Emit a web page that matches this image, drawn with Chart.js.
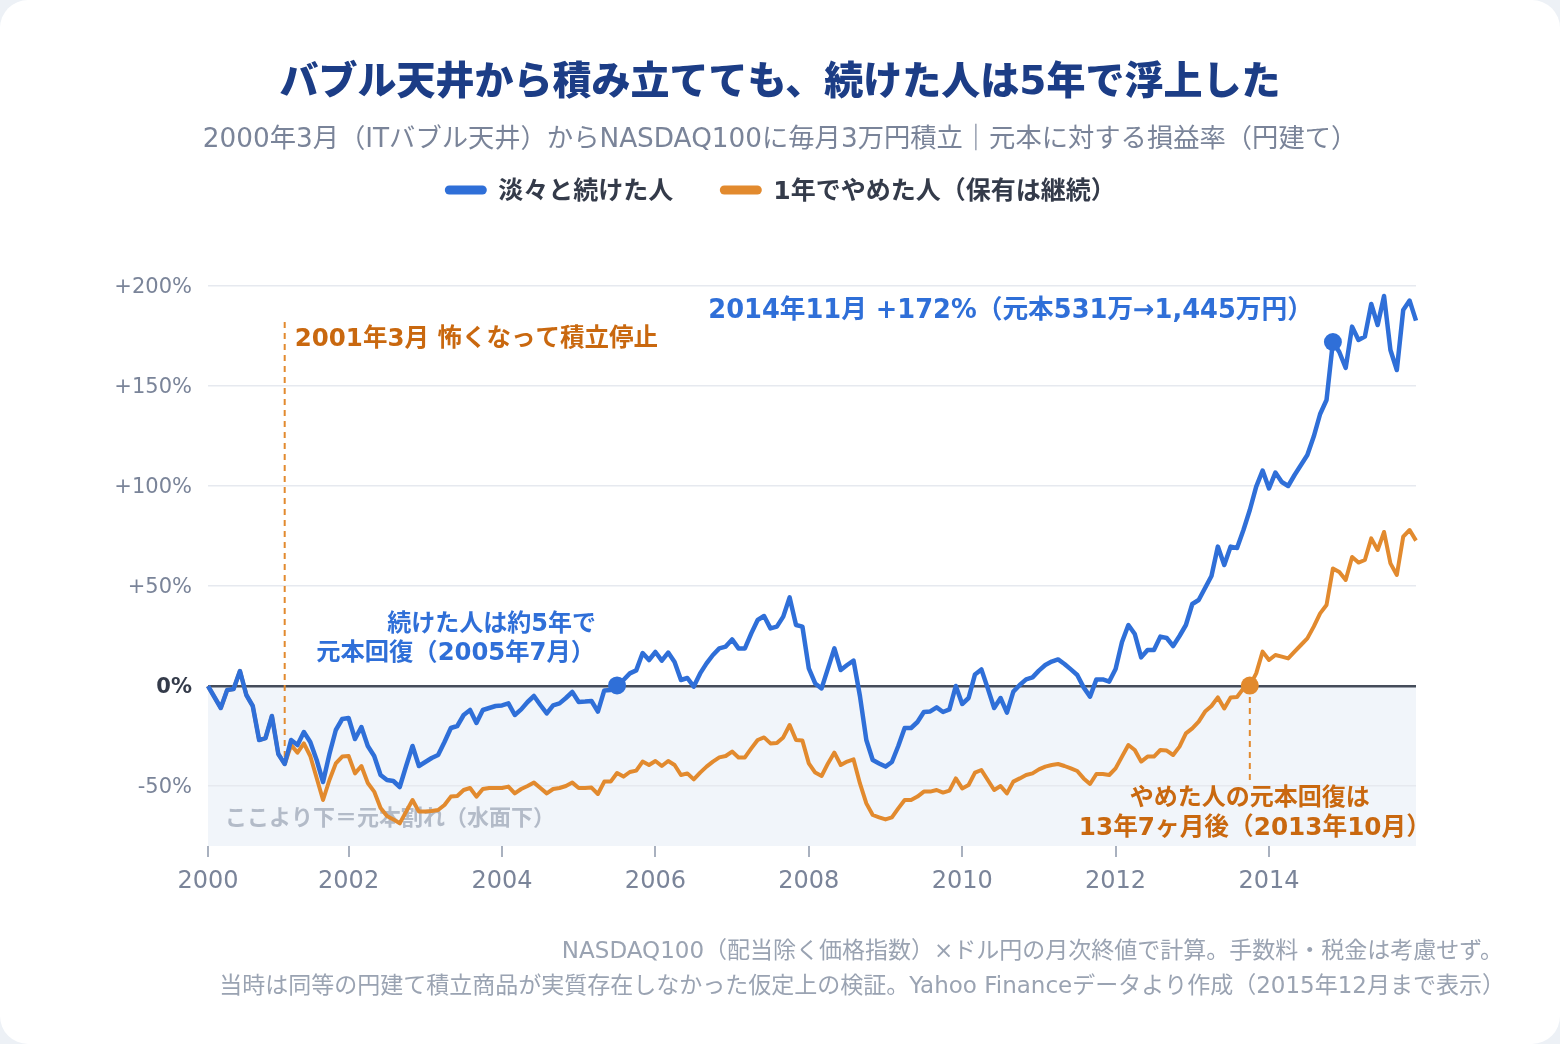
<!DOCTYPE html>
<html lang="ja">
<head>
<meta charset="utf-8">
<title>バブル天井から積み立てても、続けた人は5年で浮上した</title>
<script src="https://cdn.jsdelivr.net/npm/chart.js@4.4.1/dist/chart.umd.min.js"></script>
<style>
  html, body { margin: 0; padding: 0; background: #edf1f6; }
  .card { position: absolute; left: 0; top: 0; width: 1560px; height: 1044px; background: #fff; border-radius: 28px; overflow: hidden; }
  canvas { display: block; }
</style>
</head>
<body>
<div class="card"><canvas id="chart" width="1560" height="1044"></canvas></div>
<script>
(function() {

  // ***************************************************
  // Data: profit/loss vs. principal in %, month-end, Mar 2000 - Dec 2015
  // ***************************************************

  // 淡々と続けた人 (kept buying 30,000 yen every month)
  var kept = [
    0, -5.5, -11, -2, -1.5, 7.5, -4.5, -10, -27, -26, -15, -34,            // 2000
    -39, -27, -29.5, -23, -28, -37, -48, -34, -22, -16.5,                  // 2001
    -16, -26.5, -20.5, -30, -35, -44.5, -47, -47.5, -50.5, -40, -30, -40,  // 2002
    -38, -36, -34.5, -28, -21, -20, -14.5, -12, -18.5, -12, -11, -10,      // 2003
    -9.7, -8.7, -14.5, -11.7, -8, -5, -9.5, -13.7, -9.7, -8.7, -6, -3,     // 2004
    -8, -7.8, -7.5, -12.8, -2.2, -2, 0.3, 3, 6.3, 7.8, 16.5, 13,           // 2005
    17, 12.7, 16.7, 12, 3, 4, -0.3, 6.3, 11.3, 15.5, 18.8, 19.7,           // 2006
    23.3, 18.8, 18.8, 26.3, 33, 35, 28.8, 29.7, 34.7, 44.3, 30.5, 29.7,    // 2007
    8.8, 1.3, -1.2, 8.8, 18.8, 8, 10.5, 12.7, -5, -27, -37, -38.7,         // 2008
    -40.3, -38, -30, -21, -21, -18, -13, -12.7, -10.7, -13, -11.7, 0,      // 2009
    -9, -6, 5.8, 8.3, -1.2, -11, -6, -13.3, -2.8, 0.5, 3.3, 4.3,           // 2010
    7.7, 10.5, 12.2, 13.3, 11, 8.3, 5.5, -0.7, -5.3, 3.3, 3.3, 2.2,        // 2011
    8.5, 22, 30.5, 26, 14.3, 18, 18, 24.7, 24, 20, 25, 30.5,               // 2012
    41, 43, 49, 55, 69.7, 60.5, 69.7, 69, 78, 88, 99.7, 107.7,             // 2013
    98.8, 106.7, 102, 100, 105.5, 110.5, 115.5, 124.7, 136, 143, 172, 167, // 2014
    159, 179.7, 173, 174.7, 191, 180.5, 195, 168, 158, 188, 192.7, 182.7   // 2015
  ];

  // 1年でやめた人 (stopped after Mar 2001, kept holding)
  var stopped = [
    0, -5.5, -11, -2, -1.5, 7.5, -4.5, -10, -27, -26, -15, -34,
    -39, -29.5, -33.3, -28.7, -35, -46, -57, -47, -38.7, -35.3,
    -35, -43.7, -40, -48.5, -52.8, -61, -65, -66.7, -68.7, -62.8, -57, -62.8,
    -62.8, -62.5, -62, -59.5, -55.3, -55, -52, -51, -55.3, -51.5, -51, -51,
    -51, -50.3, -53.7, -51.5, -50, -48.3, -51, -53.7, -51.5, -51, -50, -48.3,
    -51, -51, -50.8, -54, -47.8, -47.8, -43.5, -45.3, -43, -42.3, -37.8, -39.5,
    -37.5, -40, -37.5, -39.5, -44.5, -43.7, -46.7, -43.3, -40.3, -37.8, -35.7, -35,
    -32.8, -35.7, -35.7, -31.2, -27, -25.7, -28.7, -28.5, -25.7, -19.5, -27, -27.3,
    -38.7, -43.3, -45, -38.7, -33.3, -39.5, -37.8, -36.7, -48.7, -58.7, -64.5, -65.7,
    -66.7, -65.7, -61.2, -57, -57, -55.3, -52.8, -52.8, -52, -53.3, -52.3, -46.2,
    -51.2, -49.5, -43.3, -42, -47, -52, -50, -53.7, -47.8, -46.2, -44.5, -43.7,
    -41.7, -40.3, -39.5, -39, -40, -41.2, -42.5, -46.2, -49, -44, -44, -44.5,
    -41.2, -35.3, -29.5, -32, -37.8, -35.3, -35.3, -32, -32.3, -34.5, -30.3, -23.7,
    -21.2, -17.8, -12.8, -10, -5.7, -11.2, -5.7, -5.5, -1.2, 0.2, 6.3, 17.2,
    13, 15.5, 14.7, 13.8, 17.2, 20.5, 23.8, 29.7, 36.3, 40.5, 58.8, 57,
    53, 64.5, 61.7, 63, 73.8, 68, 77, 61.3, 55.5, 74.7, 78, 72.7
  ];

  // month labels, Mar 2000 onwards (one per data point)
  var months = [];
  for (var i = 0; i < kept.length; i++) {
    var m = 2 + i;
    months.push((2000 + Math.floor(m / 12)) + '-' + ('0' + (m % 12 + 1)).slice(-2));
  }

  var xTickYears = ['2000', '2002', '2004', '2006', '2008', '2010', '2012', '2014'];
  var yTickValues = [-50, 0, 50, 100, 150, 200];

  var STOP_MONTH = '2001-03';
  var KEPT_RECOVER = '2005-07';
  var STOPPED_RECOVER = '2013-10';
  var PEAK_MONTH = '2014-11';

  // ***************************************************
  // Styles
  // ***************************************************
  var FONT = "'DejaVu Sans', 'Noto Sans CJK JP', sans-serif";
  var BLUE = '#2f6fd8';
  var ORANGE = '#e28a2e';
  var ORANGE_TEXT = '#c9680f';
  var GREY_TEXT = '#7a8499';

  var idx = function(label) { return months.indexOf(label); };
  var xTickIdx = xTickYears.map(function(y, k) {
    return k === 0 ? 0 : idx(y + '-01');
  });

  function dotRadius(list) {
    return function(c) { return list.indexOf(c.dataIndex) >= 0 ? 9 : 0; };
  }

  // middle-baseline text; +2 compensates DejaVu's high middle line
  function text(ctx, str, x, y, size, color, align, weight) {
    ctx.font = (weight || 'bold') + ' ' + size + 'px ' + FONT;
    ctx.fillStyle = color;
    ctx.textAlign = align || 'left';
    ctx.textBaseline = 'middle';
    ctx.fillText(str, x, y + 2);
  }

  function dashed(ctx, x, y0, y1) {
    ctx.save();
    ctx.strokeStyle = ORANGE;
    ctx.lineWidth = 2;
    ctx.setLineDash([6, 5]);
    ctx.beginPath();
    ctx.moveTo(x, y0);
    ctx.lineTo(x, y1);
    ctx.stroke();
    ctx.restore();
  }

  /**
   * Header, legend, shading, annotations and footer
   */
  var decor = {
    id: 'decor',
    beforeDraw: function(chart) {
      var ctx = chart.ctx, a = chart.chartArea, ys = chart.scales.y;
      var y0 = ys.getPixelForValue(0);
      ctx.save();
      ctx.fillStyle = '#f1f5fa';
      ctx.fillRect(a.left, y0, a.right - a.left, a.bottom - y0);
      ctx.restore();
    },
    beforeDatasetsDraw: function(chart) {
      var ctx = chart.ctx, a = chart.chartArea;
      var xs = chart.scales.x, ys = chart.scales.y;
      ctx.save();
      text(ctx, 'ここより下＝元本割れ（水面下）', a.left + 17, ys.getPixelForValue(-65.5), 22, '#b3bbc8');

      var s = idx(STOP_MONTH);
      dashed(ctx, xs.getPixelForValue(s), ys.getPixelForValue(182), ys.getPixelForValue(kept[s]));

      var r = idx(STOPPED_RECOVER);
      dashed(ctx, xs.getPixelForValue(r), ys.getPixelForValue(0), ys.getPixelForValue(-47));
      ctx.restore();
    },
    afterDraw: function(chart) {
      var ctx = chart.ctx;
      var xs = chart.scales.x, ys = chart.scales.y;
      ctx.save();

      // title + subtitle
      text(ctx, 'バブル天井から積み立てても、続けた人は5年で浮上した', 780, 82, 39, '#1c3d86', 'center', '900');
      text(ctx, '2000年3月（ITバブル天井）からNASDAQ100に毎月3万円積立｜元本に対する損益率（円建て）', 780, 138, 26.3, GREY_TEXT, 'center', 'normal');

      // legend
      var items = [
        { label: chart.data.datasets[0].label, color: BLUE },
        { label: chart.data.datasets[1].label, color: ORANGE }
      ];
      ctx.font = 'bold 25px ' + FONT;
      var sw = 43, gap = 11, spacing = 46;
      var total = 0;
      items.forEach(function(it, k) {
        it.w = ctx.measureText(it.label).width;
        total += sw + gap + it.w + (k ? 0 : spacing);
      });
      var lx = 780 - total / 2;
      items.forEach(function(it) {
        ctx.strokeStyle = it.color;
        ctx.lineWidth = 9;
        ctx.lineCap = 'round';
        ctx.beginPath();
        ctx.moveTo(lx + 5, 190);
        ctx.lineTo(lx + sw - 5, 190);
        ctx.stroke();
        text(ctx, it.label, lx + sw + gap, 190, 25, '#343b4a');
        lx += sw + gap + it.w + spacing;
      });

      // annotations
      var s = idx(STOP_MONTH);
      text(ctx, '2001年3月 怖くなって積立停止', xs.getPixelForValue(s) + 10, ys.getPixelForValue(174), 24.5, ORANGE_TEXT);

      var p = idx(PEAK_MONTH);
      text(ctx, '2014年11月 +172%（元本531万→1,445万円）', xs.getPixelForValue(p) - 20, ys.getPixelForValue(188.5), 25.7, BLUE, 'right');

      var k5 = xs.getPixelForValue(idx(KEPT_RECOVER)) - 21;
      text(ctx, '続けた人は約5年で', k5, ys.getPixelForValue(31.5), 24, BLUE, 'right');
      text(ctx, '元本回復（2005年7月）', k5 - 1, ys.getPixelForValue(17), 24.3, BLUE, 'right');

      var rx = xs.getPixelForValue(idx(STOPPED_RECOVER));
      text(ctx, 'やめた人の元本回復は', rx, ys.getPixelForValue(-55.5), 24, ORANGE_TEXT, 'center');
      text(ctx, '13年7ヶ月後（2013年10月）', rx + 5, ys.getPixelForValue(-70.5), 24.7, ORANGE_TEXT, 'center');

      // footer
      text(ctx, 'NASDAQ100（配当除く価格指数）×ドル円の月次終値で計算。手数料・税金は考慮せず。', 1503, 950, 23, '#9aa3b2', 'right', 'normal');
      text(ctx, '当時は同等の円建て積立商品が実質存在しなかった仮定上の検証。Yahoo Financeデータより作成（2015年12月まで表示）', 1505, 985, 23, '#9aa3b2', 'right', 'normal');
      ctx.restore();
    }
  };

  new Chart(document.getElementById('chart').getContext('2d'), {
    type: 'line',
    data: {
      labels: months,
      datasets: [
        {
          label: '淡々と続けた人',
          data: kept,
          borderColor: BLUE,
          backgroundColor: BLUE,
          borderWidth: 4.5,
          borderJoinStyle: 'round',
          pointRadius: dotRadius([idx(KEPT_RECOVER), idx(PEAK_MONTH)]),
          pointBorderWidth: 0,
          tension: 0
        },
        {
          label: '1年でやめた人（保有は継続）',
          data: stopped,
          borderColor: ORANGE,
          backgroundColor: ORANGE,
          borderWidth: 4,
          borderJoinStyle: 'round',
          pointRadius: dotRadius([idx(STOPPED_RECOVER)]),
          pointBorderWidth: 0,
          tension: 0
        }
      ]
    },
    options: {
      responsive: false,
      animation: false,
      devicePixelRatio: 1,
      layout: { padding: { top: 286, right: 144, bottom: 138, left: 0 } },
      plugins: {
        legend: { display: false },
        tooltip: { enabled: false }
      },
      scales: {
        x: {
          type: 'category',
          offset: false,
          border: { display: false },
          grid: { drawOnChartArea: false, tickLength: 11, color: '#a9b1bf', lineWidth: 2 },
          ticks: {
            autoSkip: false,
            maxRotation: 0,
            padding: 10,
            color: GREY_TEXT,
            font: { family: FONT, size: 24 },
            callback: function(v) {
              var k = xTickIdx.indexOf(v);
              return k >= 0 ? xTickYears[k] : null;
            }
          },
          afterBuildTicks: function(scale) {
            scale.ticks = xTickIdx.map(function(v) { return { value: v }; });
          },
          afterFit: function(scale) { scale.height = 60; }
        },
        y: {
          min: -80,
          max: 200,
          border: { display: false },
          grid: {
            drawTicks: false,
            color: function(c) { return c.tick && c.tick.value === 0 ? '#454c5a' : '#e6e9ef'; },
            lineWidth: function(c) { return c.tick && c.tick.value === 0 ? 2.5 : 1.5; }
          },
          ticks: {
            padding: 16,
            labelOffset: 2,
            color: function(c) { return c.tick.value === 0 ? '#343b4a' : GREY_TEXT; },
            font: function(c) {
              return { family: FONT, size: 21, weight: c.tick && c.tick.value === 0 ? 'bold' : 'normal' };
            },
            callback: function(v) { return (v > 0 ? '+' : '') + v + '%'; }
          },
          afterBuildTicks: function(scale) {
            scale.ticks = yTickValues.map(function(v) { return { value: v }; });
          },
          afterFit: function(scale) { scale.width = 208; }
        }
      }
    },
    plugins: [decor]
  });

})();
</script>
</body>
</html>
